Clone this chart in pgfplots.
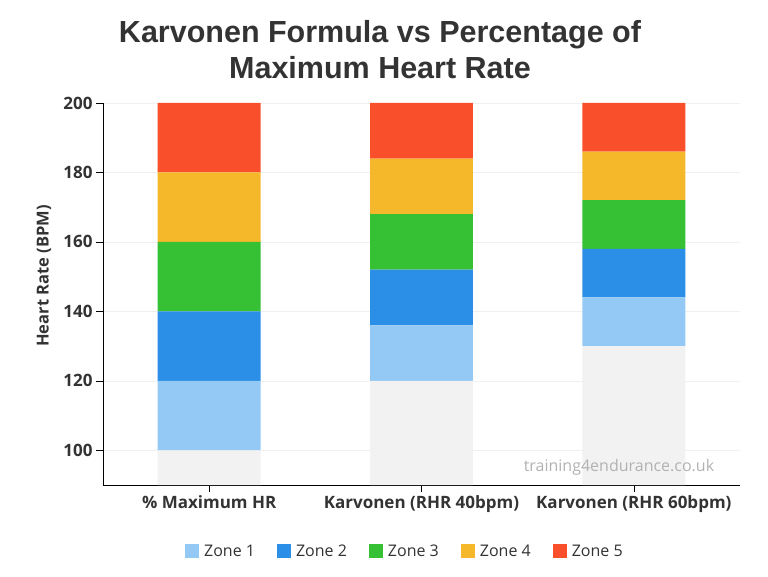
\documentclass[border=0pt]{standalone}
\usepackage{pgfplots}
\pgfplotsset{compat=1.18}
\usepackage{fontspec}
\setmainfont{Open Sans}
\newfontfamily\titlefont{Liberation Sans}
\definecolor{zA}{HTML}{94C9F5}
\definecolor{zB}{HTML}{2B8FE8}
\definecolor{zC}{HTML}{36C135}
\definecolor{zD}{HTML}{F5B82A}
\definecolor{zE}{HTML}{F94F2B}
\definecolor{base}{HTML}{F2F2F2}
\definecolor{txt}{HTML}{333333}
\begin{document}
\begin{tikzpicture}[x=1pt,y=1pt]
\path (0,0) rectangle (768,576);
\node[font=\titlefont\bfseries\fontsize{30.5}{36}\selectfont, text=txt, align=center] at (380,526) {Karvonen Formula vs Percentage of\\Maximum Heart Rate};
\node[rotate=90, text=txt, font=\bfseries\fontsize{16.5}{18}\selectfont] at (44,300) {Heart Rate (BPM)};
\begin{axis}[
  at={(103pt,91pt)}, anchor=south west,
  scale only axis, width=637pt, height=382pt,
  ybar stacked, bar width=0.485,
  xmin=-0.5, xmax=2.5, ymin=90, ymax=200,
  xtick=data,
  xticklabels={\% Maximum HR, Karvonen (RHR 40bpm), Karvonen (RHR 60bpm)},
  ytick={100,120,140,160,180,200},
  axis x line*=bottom, axis y line*=left,
  axis line style={black, line width=1pt},
  tick style={black, line width=0.6pt},
  tick align=outside, major tick length=7pt,
  ymajorgrids, major grid style={color=gray!12, line width=0.6pt},
  ticklabel style={font=\bfseries\fontsize{17}{19}\selectfont, text=txt},
  /pgf/number format/assume math mode=true,
  legend columns=5,
  legend style={draw=none, at={(0.474,-0.173)}, anchor=center, font=\fontsize{16}{18}\selectfont, text=txt,
    /tikz/every odd column/.append style={column sep=3pt},
    /tikz/every even column/.append style={column sep=20pt}},
  legend image code/.code={\fill[#1] (0pt,-7pt) rectangle (14pt,7pt);},
  after end axis/.code={
    \node[anchor=east, text=black!30, font=\fontsize{16}{18}\selectfont] at (rel axis cs:0.965,0.045) {training4endurance.co.uk};
  },
]
\addplot[fill=base, draw=none, forget plot] coordinates {(0,100) (1,120) (2,130)};
\addplot[fill=zA, draw=none] coordinates {(0,20) (1,16) (2,14)};
\addplot[fill=zB, draw=none] coordinates {(0,20) (1,16) (2,14)};
\addplot[fill=zC, draw=none] coordinates {(0,20) (1,16) (2,14)};
\addplot[fill=zD, draw=none] coordinates {(0,20) (1,16) (2,14)};
\addplot[fill=zE, draw=none] coordinates {(0,20) (1,16) (2,14)};
\legend{Zone 1, Zone 2, Zone 3, Zone 4, Zone 5}
\end{axis}
\end{tikzpicture}
\end{document}
